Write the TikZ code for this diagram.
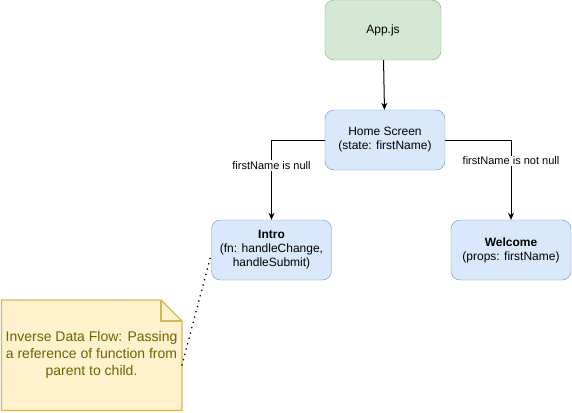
\documentclass[tikz,border=0pt]{standalone}
\usepackage{fontspec}
\setmainfont{Liberation Sans}
\usetikzlibrary{arrows.meta}
\begin{document}
\begin{tikzpicture}[x=1pt,y=-1pt,
  greenbox/.style={draw=c82b366,fill=cd5e8d4,rounded corners=9pt,minimum width=116pt,minimum height=60pt,inner sep=0pt,align=center,font=\fontsize{12}{14}\selectfont},
  bluebox/.style={draw=c6c8ebf,fill=cdae8fc,rounded corners=9pt,minimum width=120pt,minimum height=60pt,inner sep=0pt,align=center,font=\fontsize{12}{14}\selectfont},
  conn/.style={draw=black,line width=1pt,-{Stealth[length=7pt,width=6pt]}},
  elabel/.style={fill=white,inner sep=1pt,font=\fontsize{11}{13}\selectfont}]
\definecolor{c82b366}{HTML}{82B366}
\definecolor{cd5e8d4}{HTML}{D5E8D4}
\definecolor{c6c8ebf}{HTML}{6C8EBF}
\definecolor{cdae8fc}{HTML}{DAE8FC}
\definecolor{notefill}{HTML}{FFF2CC}
\definecolor{notedraw}{HTML}{D6B656}
\definecolor{notetext}{HTML}{6F6200}
\useasboundingbox (0,0) rectangle (572,412);
\node[greenbox] (app) at (383,30) {App.js};
\node[bluebox] (home) at (385,140) {Home Screen\\(state: firstName)};
\node[bluebox] (intro) at (271.5,250) {\textbf{Intro}\\(fn: handleChange,\\handleSubmit)};
\node[bluebox] (welcome) at (511,250) {\textbf{Welcome}\\(props: firstName)};
% note
\fill[notefill] (1.5,300) -- (161,300) -- (182,321) -- (182,410.5) -- (1.5,410.5) -- cycle;
\draw[notedraw,line width=1.2pt,line join=miter] (1.5,300) -- (161,300) -- (182,321) -- (182,410.5) -- (1.5,410.5) -- cycle;
\draw[notedraw,line width=1.2pt] (161,300) -- (161,321) -- (182,321);
\node[text=notetext,align=center,font=\fontsize{14}{17.3}\selectfont,inner sep=0pt] (note) at (91.5,355) {Inverse Data Flow: Passing\\a reference of function from\\parent to child.};
\coordinate (noteend) at (182,365);
\coordinate (introend) at (211,255);
\draw[conn] (app) -- (home);
\draw[conn] (home.west) -| (intro.north) node[elabel,pos=0.66] {firstName is null};
\draw[conn] (home.east) -| (welcome.north) node[elabel,pos=0.63] {firstName is not null};
\draw[line width=1.8pt,dash pattern=on 0.01pt off 5.5pt,line cap=round] (noteend) -- (introend);
\end{tikzpicture}
\end{document}
